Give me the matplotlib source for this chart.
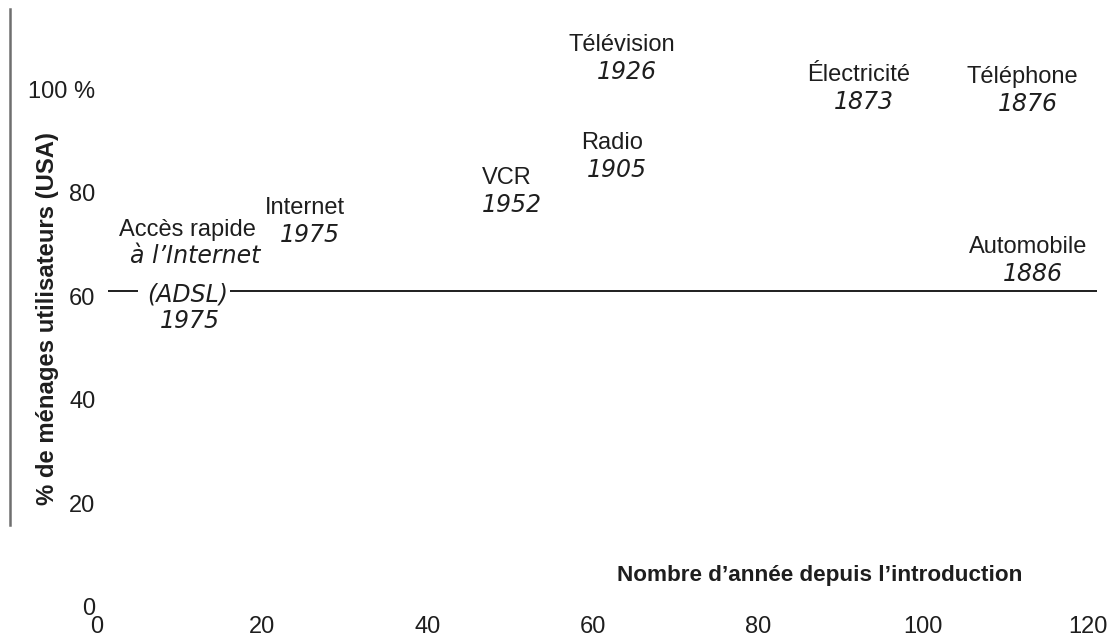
import matplotlib
matplotlib.use("Agg")
import matplotlib.pyplot as plt
from matplotlib.lines import Line2D

# ---- data -------------------------------------------------------------
technologies = ["Télévision", "Radio", "VCR", "Électricité", "Téléphone",
                "Automobile", "Internet"]
intro_years = ["1926", "1905", "1952", "1873", "1876", "1886", "1975"]
# label anchor (years since introduction, % of households)
label_x = [63.5, 62.4, 49.6, 92.2, 112.1, 112.7, 25.2]
label_y = [108.6, 89.7, 82.9, 102.8, 102.4, 69.5, 77.1]

adsl_name = "Accès rapide"
adsl_sub = ["à l’Internet", "(ADSL)"]
adsl_year = "1975"
adsl_x = [10.9, 11.9, 11.0, 11.3]
adsl_y = [72.8, 67.8, 60.4, 55.2]

x_ticks = [0, 20, 40, 60, 80, 100, 120]
y_ticks = [0, 20, 40, 60, 80, 100]
y_tick_labels = ["0", "20", "40", "60", "80", "100 %"]
ref_level = 61
ref_segments = [(1.33, 4.96), (16.1, 121.1)]

x_title = "Nombre d’année depuis l’introduction"
y_title = "% de ménages utilisateurs (USA)"

# ---- figure -----------------------------------------------------------
W, H = 1112, 636
fig = plt.figure(figsize=(W / 100, H / 100), dpi=100)
fig.patch.set_facecolor("white")
ax = fig.add_axes([97 / W, 29.5 / H, 991 / W, 517 / H])
ax.set_xlim(0, 120)
ax.set_ylim(0, 100)
for s in ax.spines.values():
    s.set_visible(False)

TXT = "#1e1e1e"
SANS = "Liberation Sans"
FS = 17

ax.set_xticks(x_ticks)
ax.set_xticklabels([str(v) for v in x_ticks], family=SANS, fontsize=FS, color=TXT)
ax.set_yticks(y_ticks)
ax.set_yticklabels(y_tick_labels, family=SANS, fontsize=FS, color=TXT)
ax.tick_params(axis="x", length=0, pad=7)
ax.tick_params(axis="y", length=0, pad=1)

# reference line
for x0, x1 in ref_segments:
    ax.plot([x0, x1], [ref_level, ref_level], color="#1e1e1e", lw=1.4,
            clip_on=False, solid_capstyle="butt")

# technology labels
for name, yr, x, y in zip(technologies, intro_years, label_x, label_y):
    ax.text(x, y, name, ha="center", va="center", family=SANS, fontsize=FS,
            color=TXT, clip_on=False)
    ax.annotate(yr, (x, y), xytext=(3.6, -19.4), textcoords="offset points",
                ha="center", va="center", family="DejaVu Sans", style="italic",
                fontsize=FS, color=TXT, annotation_clip=False)

# ADSL block
ax.text(adsl_x[0], adsl_y[0], adsl_name, ha="center", va="center",
        family=SANS, fontsize=FS, color=TXT)
for t, x, y in zip(adsl_sub + [adsl_year], adsl_x[1:], adsl_y[1:]):
    ax.text(x, y, t, ha="center", va="center", family="DejaVu Sans",
            style="italic", fontsize=FS, color=TXT)

# axis titles
fig.text(48 / W, 1 - 318.5 / H, y_title, rotation=90, ha="center", va="center",
         family=SANS, weight="bold", fontsize=17.2, color=TXT)
fig.text(1022 / W, 1 - 576 / H, x_title, ha="right", va="center",
         family=SANS, weight="bold", fontsize=16.2, color=TXT)

# left gray rule
fig.add_artist(Line2D([10 / W, 10 / W], [1 - 9 / H, 1 - 525 / H],
                      color="#6f6f6f", lw=1.8))

fig.savefig("out.png", dpi=100)
